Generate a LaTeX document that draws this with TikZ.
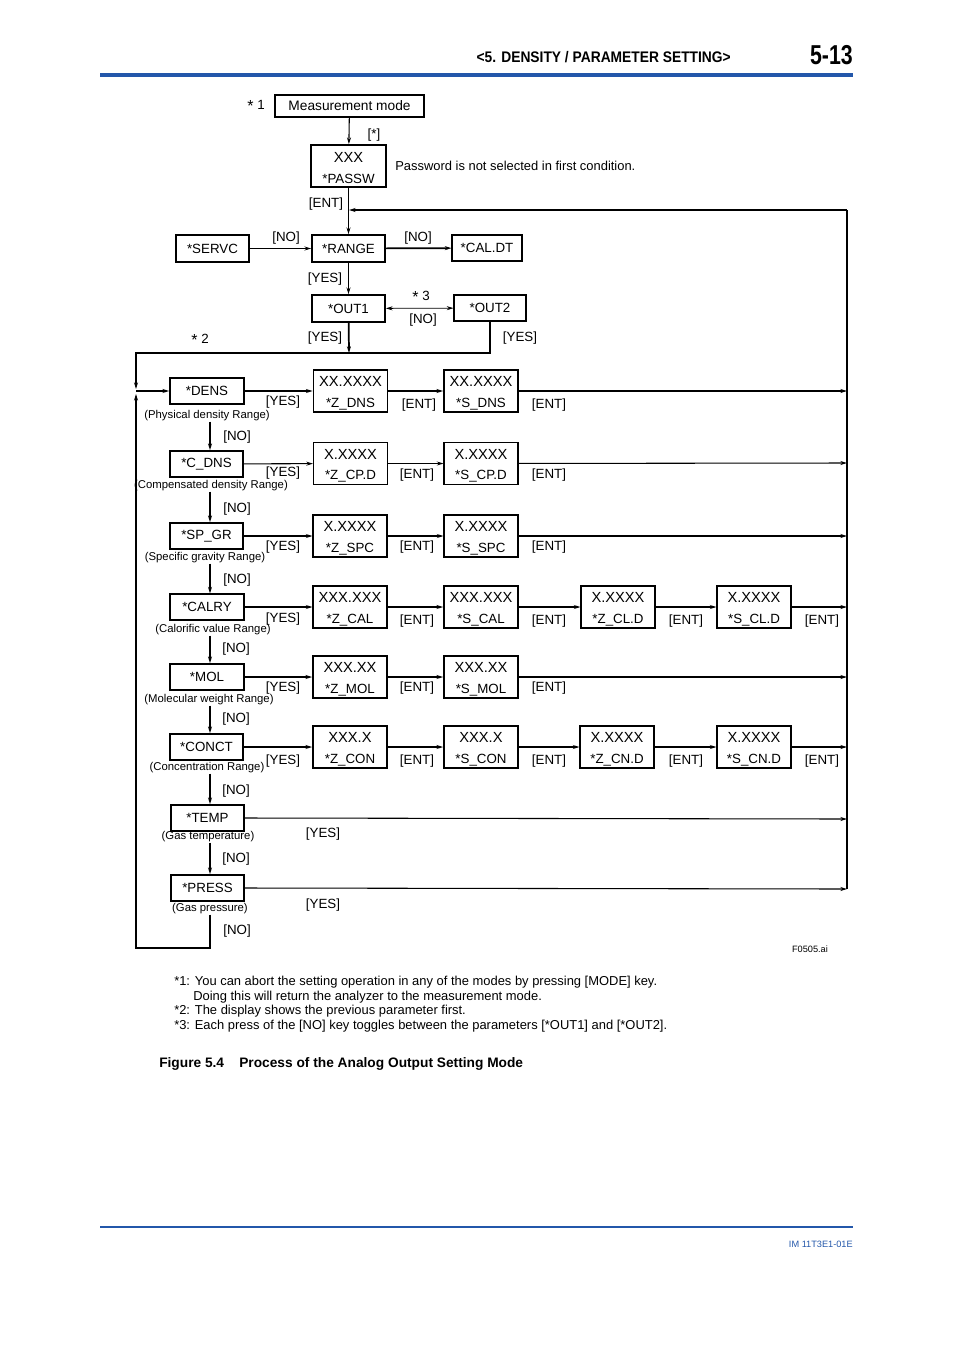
\documentclass[tikz,border=0pt]{standalone}
\usepackage{fontspec}
\setmainfont{Liberation Sans}
\newfontfamily\hdrfont[FakeStretch=0.9]{Liberation Sans}
\newfontfamily\pgnumfont[FakeStretch=0.78]{Liberation Sans}
\usetikzlibrary{arrows.meta,calc}
\definecolor{hdrblue}{RGB}{35,87,170}
\newcommand\bignum[1]{{\fontsize{11}{12}\selectfont\rule{0pt}{10.9pt}#1}}
\newcommand\mstar{\raisebox{-0.35ex}{\fontsize{12}{12}\selectfont *}}
\begin{document}
\begin{tikzpicture}[x=0.75pt,y=-0.75pt,
  wd/.style={minimum width=#1*0.75pt},
  ht/.style={minimum height=#1*0.75pt},
  box/.style={draw, line width=0.8pt, inner sep=0pt, font=\fontsize{10}{12}\selectfont},
  tbox/.style={box, line width=1.3pt},
  dbox/.style={box, align=center, wd=74, ht=42, font=\fontsize{10}{15.5}\selectfont},
  tdbox/.style={dbox, line width=1.3pt},
  lbl/.style={inner sep=0pt, font=\fontsize{10}{12}\selectfont},
  sub/.style={inner sep=0pt, font=\fontsize{8.5}{10}\selectfont},
  note/.style={inner sep=0pt, anchor=mid west, font=\fontsize{9.7}{12}\selectfont},
  arr/.style={-{Stealth[length=5pt,width=3pt]}, line width=0.8pt},
  tarr/.style={arr, line width=1.3pt},
  ln/.style={line width=0.8pt},
]
\useasboundingbox (0,0) rectangle (954,1350);

% ---------- header / footer ----------
\node[inner sep=0pt, anchor=east, font=\hdrfont\bfseries\fontsize{11.5}{13}\selectfont] (hdr) at (731,57) {<5. DENSITY / PARAMETER SETTING>};
\node[inner sep=0pt, anchor=east, font=\pgnumfont\bfseries\fontsize{20.5}{22}\selectfont] (pg) at (853,55) {5-13};
\draw[hdrblue, line width=2.3pt] (100,75) -- (853,75);
\draw[hdrblue, line width=1.1pt] (100,1227) -- (853,1227);
\node[inner sep=0pt, anchor=east, text=hdrblue, font=\fontsize{6.9}{8}\selectfont] (im) at (853,1244) {IM 11T3E1-01E};

% ---------- top part ----------
\node[box, wd=149, ht=22, font=\fontsize{10.3}{12}\selectfont] (mm) at (349.5,106) {Measurement mode};
\node[lbl] (s1) at (256,106) {\mstar\ 1};
\node[tdbox, wd=75] (passw) at (348.5,166) {\bignum{XXX}\\*PASSW};
\node[note] (pwd) at (395,167) {Password is not selected in first condition.};
\draw[arr] (mm) -- (passw);
\node[lbl] (lst) at (374,135) {[*]};

\node[tbox, wd=73, ht=27] (range) at (348.5,248.5) {*RANGE};
\node[box, wd=73, ht=27] (servc) at (212.5,248.5) {*SERVC};
\node[box, wd=70, ht=26] (caldt) at (487,248) {*CAL.DT};
\draw[arr] (passw) -- (range);
\node[lbl] (lent) at (326,204) {[ENT]};
\draw[tarr] (servc) -- (range);
\node[lbl] (lno1) at (286,238) {[NO]};
\draw[tarr] (range) -- (caldt);
\node[lbl] (lno2) at (418,238) {[NO]};

\node[tbox, wd=73, ht=27] (out1) at (348.5,308.5) {*OUT1};
\node[box, wd=72, ht=26] (out2) at (490,308) {*OUT2};
\draw[tarr] (range) -- (out1);
\node[lbl] (lyes1) at (325,279) {[YES]};
\draw[{Stealth[length=5pt,width=3pt]}-{Stealth[length=5pt,width=3pt]}, line width=0.6pt] (out1) -- (out2);
\node[lbl] (s3) at (421,297) {\mstar\ 3};
\node[lbl] (lno3) at (423,320) {[NO]};

\coordinate (j1) at (349,353);
\coordinate (lt) at (136,353);
\coordinate (ld) at (136,389);
\coordinate (lu) at (136,394);
\coordinate (lj) at (136,391);
\coordinate (lb) at (136,948);
\coordinate (xa) at (210,0);
\draw[tarr] (out1) -- (j1);
\node[lbl] (lyes2) at (325,338) {[YES]};
\draw[arr] (out2.south) |- (lt) -- (ld);
\node[lbl] (lyes3) at (520,338) {[YES]};
\node[lbl] (s2) at (200,340) {\mstar\ 2};

% right return line
\coordinate (rt) at (847,210);
\coordinate (rb) at (847,889);
\coordinate (rj) at (349,210);
\draw[ln] (rb) -- (rt);
\draw[tarr] (rt) -- (rj);

% ---------- DENS row ----------
\node[tbox, wd=74, ht=26] (dens) at (207,391) {*DENS};
\node[sub] (ddens) at (207,416) {(Physical density Range)};
\node[tdbox] (zdns) at (350.5,391) {\bignum{XX.XXXX}\\*Z\_DNS};
\node[tdbox] (sdns) at (481,391) {\bignum{XX.XXXX}\\*S\_DNS};
\coordinate (r1) at (847,391);
\draw[arr] (lj) -- (dens);
\draw[tarr] (dens) -- (zdns);
\draw[tarr] (zdns) -- (sdns);
\draw[tarr] (sdns) -- (r1);
\node[lbl] at (283,402) {[YES]};
\node[lbl] at (419,405) {[ENT]};
\node[lbl] at (549,405) {[ENT]};

% ---------- C_DNS row ----------
\node[tbox, wd=73, ht=26] (cdns) at (206.5,464) {*C\_DNS};
\node[sub] (dcdns) at (211,486) {(Compensated density Range)};
\node[dbox] (zcpd) at (350.5,463.5) {\bignum{X.XXXX}\\*Z\_CP.D};
\node[dbox] (scpd) at (481,463.5) {\bignum{X.XXXX}\\*S\_CP.D};
\coordinate (r2) at (847,463);
\draw[arr] (cdns) -- (zcpd);
\draw[arr] (zcpd) -- (scpd);
\draw[arr] (scpd) -- (r2);
\draw[tarr] (ddens.south -| xa) -- (cdns.north -| xa);
\node[lbl] at (237,437) {[NO]};
\node[lbl] at (283,473) {[YES]};
\node[lbl] at (417,475) {[ENT]};
\node[lbl] at (549,475) {[ENT]};

% ---------- SP_GR row ----------
\node[tbox, wd=73, ht=26] (spgr) at (206.5,536) {*SP\_GR};
\node[sub] (dspgr) at (205,558) {(Specific gravity Range)};
\node[dbox] (zspc) at (350,536) {\bignum{X.XXXX}\\*Z\_SPC};
\node[dbox] (sspc) at (481,536) {\bignum{X.XXXX}\\*S\_SPC};
\coordinate (r3) at (847,536);
\draw[arr] (spgr) -- (zspc);
\draw[arr] (zspc) -- (sspc);
\draw[arr] (sspc) -- (r3);
\draw[tarr] (dcdns.south -| xa) -- (spgr.north -| xa);
\node[lbl] at (237,509) {[NO]};
\node[lbl] at (283,547) {[YES]};
\node[lbl] at (417,547) {[ENT]};
\node[lbl] at (549,547) {[ENT]};

% ---------- CALRY row ----------
\node[box, wd=74, ht=26] (calry) at (207,607) {*CALRY};
\node[sub] (dcalry) at (213,630) {(Calorific value Range)};
\node[dbox] (zcal) at (350,607) {\bignum{XXX.XXX}\\*Z\_CAL};
\node[tdbox] (scal) at (481,607) {\bignum{XXX.XXX}\\*S\_CAL};
\node[dbox] (zcld) at (618,607) {\bignum{X.XXXX}\\*Z\_CL.D};
\node[dbox] (scld) at (754,607) {\bignum{X.XXXX}\\*S\_CL.D};
\coordinate (r4) at (847,607);
\draw[tarr] (calry) -- (zcal);
\draw[tarr] (zcal) -- (scal);
\draw[tarr] (scal) -- (zcld);
\draw[arr] (zcld) -- (scld);
\draw[tarr] (scld) -- (r4);
\draw[tarr] (dspgr.south -| xa) -- (calry.north -| xa);
\node[lbl] at (237,580) {[NO]};
\node[lbl] at (283,619) {[YES]};
\node[lbl] at (417,621) {[ENT]};
\node[lbl] at (549,621) {[ENT]};
\node[lbl] at (686,621) {[ENT]};
\node[lbl] at (822,621) {[ENT]};

% ---------- MOL row ----------
\node[tbox, wd=74, ht=26] (mol) at (207,677) {*MOL};
\node[sub] (dmol) at (209,700) {(Molecular weight Range)};
\node[tdbox] (zmol) at (350,677) {\bignum{XXX.XX}\\*Z\_MOL};
\node[tdbox] (smol) at (481,677) {\bignum{XXX.XX}\\*S\_MOL};
\coordinate (r5) at (847,677);
\draw[tarr] (mol) -- (zmol);
\draw[tarr] (zmol) -- (smol);
\draw[tarr] (smol) -- (r5);
\draw[arr] (dcalry.south -| xa) -- (mol.north -| xa);
\node[lbl] at (236,649) {[NO]};
\node[lbl] at (283,688) {[YES]};
\node[lbl] at (417,688) {[ENT]};
\node[lbl] at (549,688) {[ENT]};

% ---------- CONCT row ----------
\node[tbox, wd=73, ht=26] (conct) at (206.5,747) {*CONCT};
\node[sub] (dconct) at (207,768) {(Concentration Range)};
\node[tdbox] (zcon) at (350,747) {\bignum{XXX.X}\\*Z\_CON};
\node[tdbox] (scon) at (481,747) {\bignum{XXX.X}\\*S\_CON};
\node[dbox] (zcnd) at (617,747) {\bignum{X.XXXX}\\*Z\_CN.D};
\node[dbox] (scnd) at (754,747) {\bignum{X.XXXX}\\*S\_CN.D};
\coordinate (r6) at (847,747);
\draw[tarr] (conct) -- (zcon);
\draw[tarr] (zcon) -- (scon);
\draw[tarr] (scon) -- (zcnd);
\draw[arr] (zcnd) -- (scnd);
\draw[arr] (scnd) -- (r6);
\draw[arr] (dmol.south -| xa) -- (conct.north -| xa);
\node[lbl] at (236,719) {[NO]};
\node[lbl] at (283,761) {[YES]};
\node[lbl] at (417,761) {[ENT]};
\node[lbl] at (549,761) {[ENT]};
\node[lbl] at (686,761) {[ENT]};
\node[lbl] at (822,761) {[ENT]};

% ---------- TEMP row ----------
\node[tbox, wd=73, ht=26] (temp) at (207.5,818) {*TEMP};
\node[sub] (dtemp) at (208,837) {(Gas temperature)};
\coordinate (r7) at (847,819);
\draw[arr] (temp.east) -- (r7);
\draw[arr] (dconct.south -| xa) -- (temp.north -| xa);
\node[lbl] at (236,791) {[NO]};
\node[lbl] at (323,834) {[YES]};

% ---------- PRESS row ----------
\node[tbox, wd=73, ht=26] (press) at (207.5,888) {*PRESS};
\node[sub] (dpress) at (210,909) {(Gas pressure)};
\coordinate (r8) at (847,889);
\draw[arr] (press.east) -- (r8);
\draw[arr] (dtemp.south -| xa) -- (press.north -| xa);
\node[lbl] at (236,859) {[NO]};
\node[lbl] at (323,905) {[YES]};

% bottom loop back to DENS
\draw[arr] (dpress.south -| xa) |- (lb) -- (lu);
\node[lbl] at (237,931) {[NO]};

\node[inner sep=0pt, font=\fontsize{6.9}{8}\selectfont] (fid) at (810,949) {F0505.ai};

% ---------- notes ----------
\node[note] (n1) at (174,982) {*1: You can abort the setting operation in any of the modes by pressing [MODE] key.};
\node[note] (n1b) at (193,997) {Doing this will return the analyzer to the measurement mode.};
\node[note] (n2) at (174,1011) {*2: The display shows the previous parameter first.};
\node[note] (n3) at (174,1026) {*3: Each press of the [NO] key toggles between the parameters [*OUT1] and [*OUT2].};
\node[note, font=\bfseries\fontsize{10.3}{12}\selectfont] (cap1) at (159,1064) {Figure 5.4};
\node[note, font=\bfseries\fontsize{10.3}{12}\selectfont] (cap2) at (239,1064) {Process of the Analog Output Setting Mode};
\end{tikzpicture}
\end{document}
